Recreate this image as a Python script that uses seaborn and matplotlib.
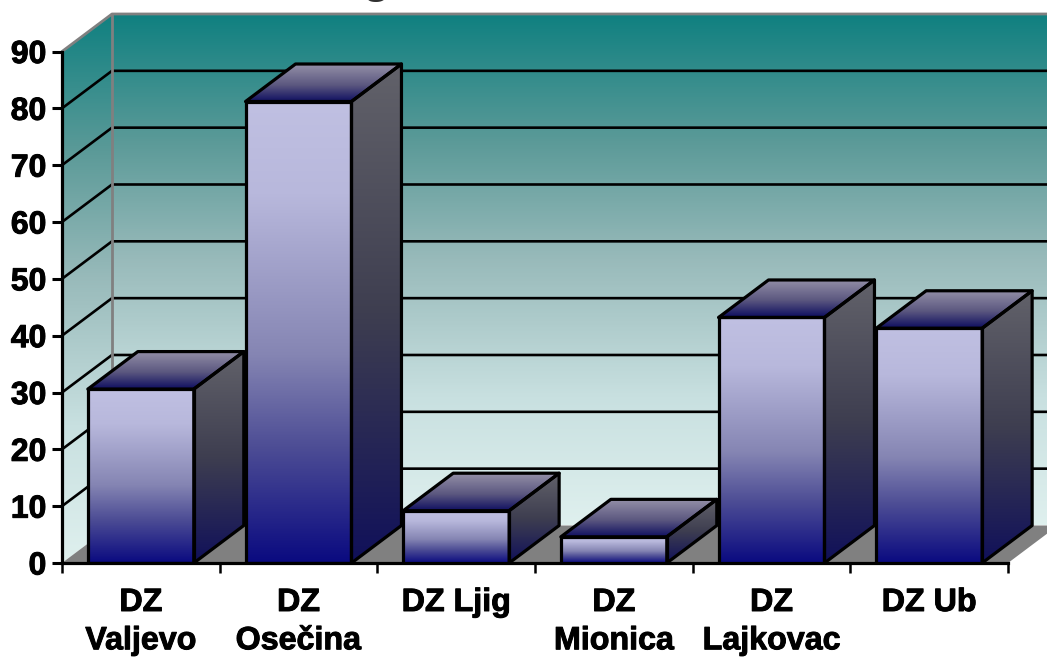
import matplotlib
matplotlib.use('Agg')
import matplotlib.pyplot as plt
import matplotlib.patheffects as pe
import numpy as np
import seaborn as sns
from matplotlib.colors import LinearSegmentedColormap
from matplotlib.patches import Polygon

categories = ['DZ\nValjevo', 'DZ\nOsečina', 'DZ Ljig', 'DZ\nMionica', 'DZ\nLajkovac', 'DZ Ub']
values = [30.6, 81.2, 9.2, 4.6, 43.2, 41.3]
y_ticks = [0, 10, 20, 30, 40, 50, 60, 70, 80, 90]

WALL = [(0, '#0f8080'), (.25, '#5b9a98'), (.48, '#98baba'), (.75, '#c8e0e0'), (1, '#dff0ee')]
FRONT = [(0, '#c0c0e2'), (.2, '#b8b8dc'), (.55, '#8585b3'), (.75, '#4d4d95'), (1, '#0a0a80')]
SIDE = [(0, '#62626a'), (.5, '#3e3e50'), (1, '#10105a')]
TOP = [(0, '#9490a8'), (.55, '#5c5880'), (1, '#0e0e60')]

# 3d offset of the box, in data units
DX = 50 / 157.7
DY = 6.6

sns.set_style('white')
plt.rcParams['font.family'] = ['Liberation Sans', 'DejaVu Sans']

fig = plt.figure(figsize=(10.47, 6.57), dpi=100)
ax = fig.add_axes([62 / 1047, (657 - 563) / 657, (1008 - 62) / 1047, (563 - 51.5) / 657])


def shade(pts, stops, z):
    # vertical gradient cut to a polygon
    pts = np.array(pts)
    cmap = LinearSegmentedColormap.from_list('g', stops)
    grad = np.linspace(0, 1, 256).reshape(-1, 1)
    ext = [pts[:, 0].min(), pts[:, 0].max(), pts[:, 1].min(), pts[:, 1].max()]
    im = ax.imshow(grad, cmap=cmap, extent=ext, aspect='auto', origin='upper', zorder=z)
    im.set_clip_box(fig.bbox)
    im.set_clip_path(Polygon(pts, transform=ax.transData))


sns.barplot(x=categories, y=values, width=0.672, color='#8080b0', edgecolor='black',
            linewidth=2.3, ax=ax)

x0, x1 = -0.5, 5.5
shade([(x0 + DX, DY), (x1 + DX, DY), (x1 + DX, 90 + DY), (x0 + DX, 90 + DY)], WALL, 0.1)
shade([(x0, 0), (x0 + DX, DY), (x0 + DX, 90 + DY), (x0, 90)], WALL, 0.1)
ax.add_patch(Polygon([(x0, 0), (x1, 0), (x1 + DX, DY), (x0 + DX, DY)], fc='#808080', ec='none',
                     zorder=0.2, clip_on=False))

for v in y_ticks[1:-1]:
    ax.plot([x0, x0 + DX, x1 + DX], [v, v + DY, v + DY], color='black', lw=1.9, zorder=0.3,
            clip_on=False, solid_joinstyle='miter')
ax.plot([x0, x0 + DX, x1 + DX], [90, 90 + DY, 90 + DY], color='#808080', lw=2, zorder=0.3,
        clip_on=False)
ax.plot([x0 + DX, x0 + DX], [DY, 90 + DY], color='#808080', lw=2, zorder=0.3, clip_on=False)

# give every seaborn bar its gradient and the two visible box faces
for i, bar in enumerate(ax.patches[:len(values)]):
    l, r, h = bar.get_x(), bar.get_x() + bar.get_width(), bar.get_height()
    z = 1 + i
    shade([(l, 0), (r, 0), (r, h), (l, h)], FRONT, z)
    shade([(r, 0), (r + DX, DY), (r + DX, h + DY), (r, h)], SIDE, z)
    shade([(l, h), (r, h), (r + DX, h + DY), (l + DX, h + DY)], TOP, z)
    bar.set_facecolor('none')
    bar.set_zorder(z + 0.5)
    for pts in ([(r, 0), (r + DX, DY), (r + DX, h + DY), (r, h)],
                [(l, h), (r, h), (r + DX, h + DY), (l + DX, h + DY)]):
        ax.add_patch(Polygon(pts, fc='none', ec='black', lw=2.3, zorder=z + 0.5, clip_on=False,
                             joinstyle='round'))

ax.set_xlim(x0, x1)
ax.set_ylim(0, 90)
ax.set_yticks(y_ticks)
ax.set_xticks(np.arange(len(categories)))
ax.set_xticklabels(categories, fontsize=23.2, fontweight='bold', linespacing=1.36, color='black')
ax.set_xticks(np.arange(x0, x1 + 1), minor=True)
ax.tick_params(axis='x', which='major', length=0, pad=18)
ax.tick_params(axis='x', which='minor', length=7.2, width=1.8, color='black', bottom=True)
ax.tick_params(axis='y', length=7.2, width=2.2, color='black', left=True, pad=4, labelsize=23,
               labelcolor='black')
heavy = [pe.withStroke(linewidth=0.7, foreground='black')]
for t in ax.get_yticklabels() + ax.get_xticklabels():
    t.set_fontweight('bold')
    t.set_path_effects(heavy)
for side in ['top', 'right']:
    ax.spines[side].set_visible(False)
for side in ['left', 'bottom']:
    ax.spines[side].set_color('black')
    ax.spines[side].set_linewidth(2.3)
ax.set_xlabel('')
ax.patch.set_alpha(0)

# title is cut by the top edge, only the tail of the g shows
fig.text(376 / 1047, 1 + 7 / 657, 'g', family='Liberation Serif', fontweight='bold', fontsize=30,
         ha='center', va='baseline', color='#303030')

fig.savefig('out.png', dpi=100)
